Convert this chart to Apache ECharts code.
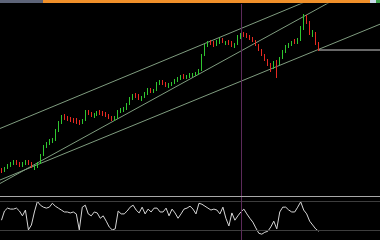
<!DOCTYPE html>
<html><head><meta charset="utf-8">
<script src="https://cdn.jsdelivr.net/npm/echarts/dist/echarts.min.js"></script>
<style>html,body{margin:0;padding:0;background:#000;overflow:hidden}#c{width:380px;height:240px}</style>
</head><body><div id="c"></div>
<script>
// ---- data (price units are arbitrary) ----
const opens  = [31,29,32,34,36,39,37,34,36,39,37,31,33,37,45,53,56,58,60,69,77,85,83,82,81,80,79,77,80,89,87,83,85,89,88,87,85,83,80,82,88,89,91,96,101,106,105,100,103,106,111,108,110,116,119,117,113,115,117,119,121,125,122,123,124,125,126,130,145,154,159,158,155,157,161,156,159,158,153,156,162,167,166,164,162,159,155,150,145,140,136,133,139,136,142,148,153,155,160,157,160,171,184,178,164,167,157];
const closes = [28,32,35,37,38,36,34,37,38,36,33,33,37,45,54,57,59,60,70,78,83,82,81,80,79,78,77,80,88,86,84,85,88,87,86,84,82,81,82,89,90,92,96,102,104,104,101,103,107,110,109,110,117,118,116,114,115,117,120,122,123,123,124,125,126,127,130,145,155,158,157,155,158,160,158,158,157,154,156,163,165,165,163,162,159,155,150,145,140,136,133,138,136,142,149,154,156,158,158,160,172,183,178,166,168,156,150];
const lows   = [27,28,31,33,35,35,33,33,35,35,32,30,32,36,44,52,55,57,59,68,76,80,79,78,77,76,75,76,79,85,83,82,84,85,84,83,81,79,79,81,87,88,90,95,100,102,100,99,102,105,107,107,109,115,115,113,112,114,116,118,120,121,121,122,123,124,125,129,144,153,155,153,154,156,157,155,155,153,152,155,161,163,162,160,158,154,149,144,139,134,128,131,122,135,141,147,152,154,156,156,159,170,176,165,163,155,149];
const highs  = [32,33,36,38,40,40,38,38,40,40,38,35,38,46,55,58,61,62,71,79,85,86,84,83,82,82,80,81,90,90,88,87,89,90,89,88,86,84,84,90,92,93,97,103,106,107,106,104,108,112,112,111,118,120,120,118,117,118,121,123,125,126,125,127,127,128,131,146,156,159,160,159,160,162,162,159,160,159,157,165,167,168,167,165,163,160,156,151,146,141,137,139,140,143,150,155,157,159,161,162,174,186,185,179,170,168,158];
const oscillator = [41,60,66,64,64,66,60,50,62,21,31,58,80,72,68,66,68,76,70,66,62,58,58,56,58,54,21,68,72,54,50,58,56,45,50,39,27,21,23,60,54,54,60,68,72,62,56,68,54,64,58,66,66,58,58,66,50,64,56,45,54,64,66,70,64,54,76,74,70,66,62,64,62,54,68,45,29,56,41,50,58,64,54,45,37,25,14,12,16,18,27,39,23,58,68,68,62,58,58,68,79,62,54,39,31,23,18];
const oscLevels = [80, 20];
// trend lines: [bar position, price] endpoints
const upperChannel = [[0, 71.5], [127, 229.2]];
const middleTrend  = [[0, 16.5], [127, 225.5]];
const lowerTrend   = [[0, 20], [127, 175.8]];
const lastPriceLine = [[106.3, 150], [127, 150]];
const markerBar = 80;
const SLOTS = 127;
const categories = Array.from({length: SLOTS}, (_, i) => 'Bar ' + (i + 1));

const candleData = closes.map((c, i) => [opens[i], c, lows[i], highs[i]]);
const trendStyle = {color: '#7f9c7f', width: 1};
const trend = (d) => ({type: 'line', xAxisIndex: 1, yAxisIndex: 0, data: d, symbol: 'none',
  lineStyle: trendStyle, silent: true, clip: true, z: 3});
const markerStyle = {color: '#5c2a5a', width: 1, type: 'solid'};

const chart = echarts.init(document.getElementById('c'), null, {renderer: 'canvas'});
chart.setOption({
  animation: false,
  backgroundColor: '#000',
  grid: [
    {left: 0, right: 0, top: 4, height: 192, show: false},
    {left: 0, right: 0, top: 197, height: 43, show: false}
  ],
  xAxis: [
    {type: 'category', gridIndex: 0, data: categories, boundaryGap: true,
     axisLine: {show: true, lineStyle: {color: '#a8a8a8', width: 1}}, axisTick: {show: false}, axisLabel: {show: false},
     splitLine: {show: false}},
    {type: 'value', gridIndex: 0, min: 0, max: SLOTS, show: false},
    {type: 'category', gridIndex: 1, data: categories, boundaryGap: true,
     axisLine: {show: false}, axisTick: {show: false}, axisLabel: {show: false}, splitLine: {show: false}}
  ],
  yAxis: [
    {type: 'value', gridIndex: 0, min: 4, max: 196, axisLine: {show: false}, axisTick: {show: false},
     axisLabel: {show: false}, splitLine: {show: false}},
    {type: 'value', gridIndex: 1, min: 0, max: 89, axisLine: {show: false}, axisTick: {show: false},
     axisLabel: {show: false}, splitLine: {show: false}}
  ],
  graphic: [
    {type: 'rect', shape: {x: 0, y: 0, width: 380, height: 3}, style: {fill: '#f0902a'}, z: 100},
    {type: 'rect', shape: {x: 0, y: 0, width: 43, height: 3}, style: {fill: '#5d6478'}, z: 101},
    {type: 'rect', shape: {x: 370, y: 0, width: 6, height: 3}, style: {fill: '#c8d8e8'}, z: 101},
    {type: 'rect', shape: {x: 376, y: 0, width: 4, height: 3}, style: {fill: '#3aa04a'}, z: 101}
  ],
  series: [
    {type: 'candlestick', xAxisIndex: 0, yAxisIndex: 0, data: candleData, barWidth: 1,
     itemStyle: {color: '#2fc62f', color0: '#e62a22', borderColor: '#2fc62f', borderColor0: '#e62a22', borderWidth: 1},
     markLine: {silent: true, symbol: 'none', label: {show: false},
       lineStyle: markerStyle, data: [{xAxis: markerBar}]}, z: 4},
    trend(upperChannel),
    trend(middleTrend),
    trend(lowerTrend),
    {type: 'line', xAxisIndex: 1, yAxisIndex: 0, data: lastPriceLine, symbol: 'none',
     lineStyle: {color: '#cfcfcf', width: 1}, silent: true, z: 3},
    {type: 'line', xAxisIndex: 2, yAxisIndex: 1, data: oscillator, symbol: 'none',
     lineStyle: {color: '#d6d6d6', width: 1}, silent: true, z: 3,
     markLine: {silent: true, symbol: 'none', label: {show: false}, animation: false,
       data: [
         {yAxis: oscLevels[0], lineStyle: {color: '#3d3d3d', width: 1, type: 'solid'}},
         {yAxis: oscLevels[1], lineStyle: {color: '#3d3d3d', width: 1, type: 'solid'}},
         {xAxis: markerBar, lineStyle: markerStyle}
       ]}}
  ]
});
</script></body></html>
